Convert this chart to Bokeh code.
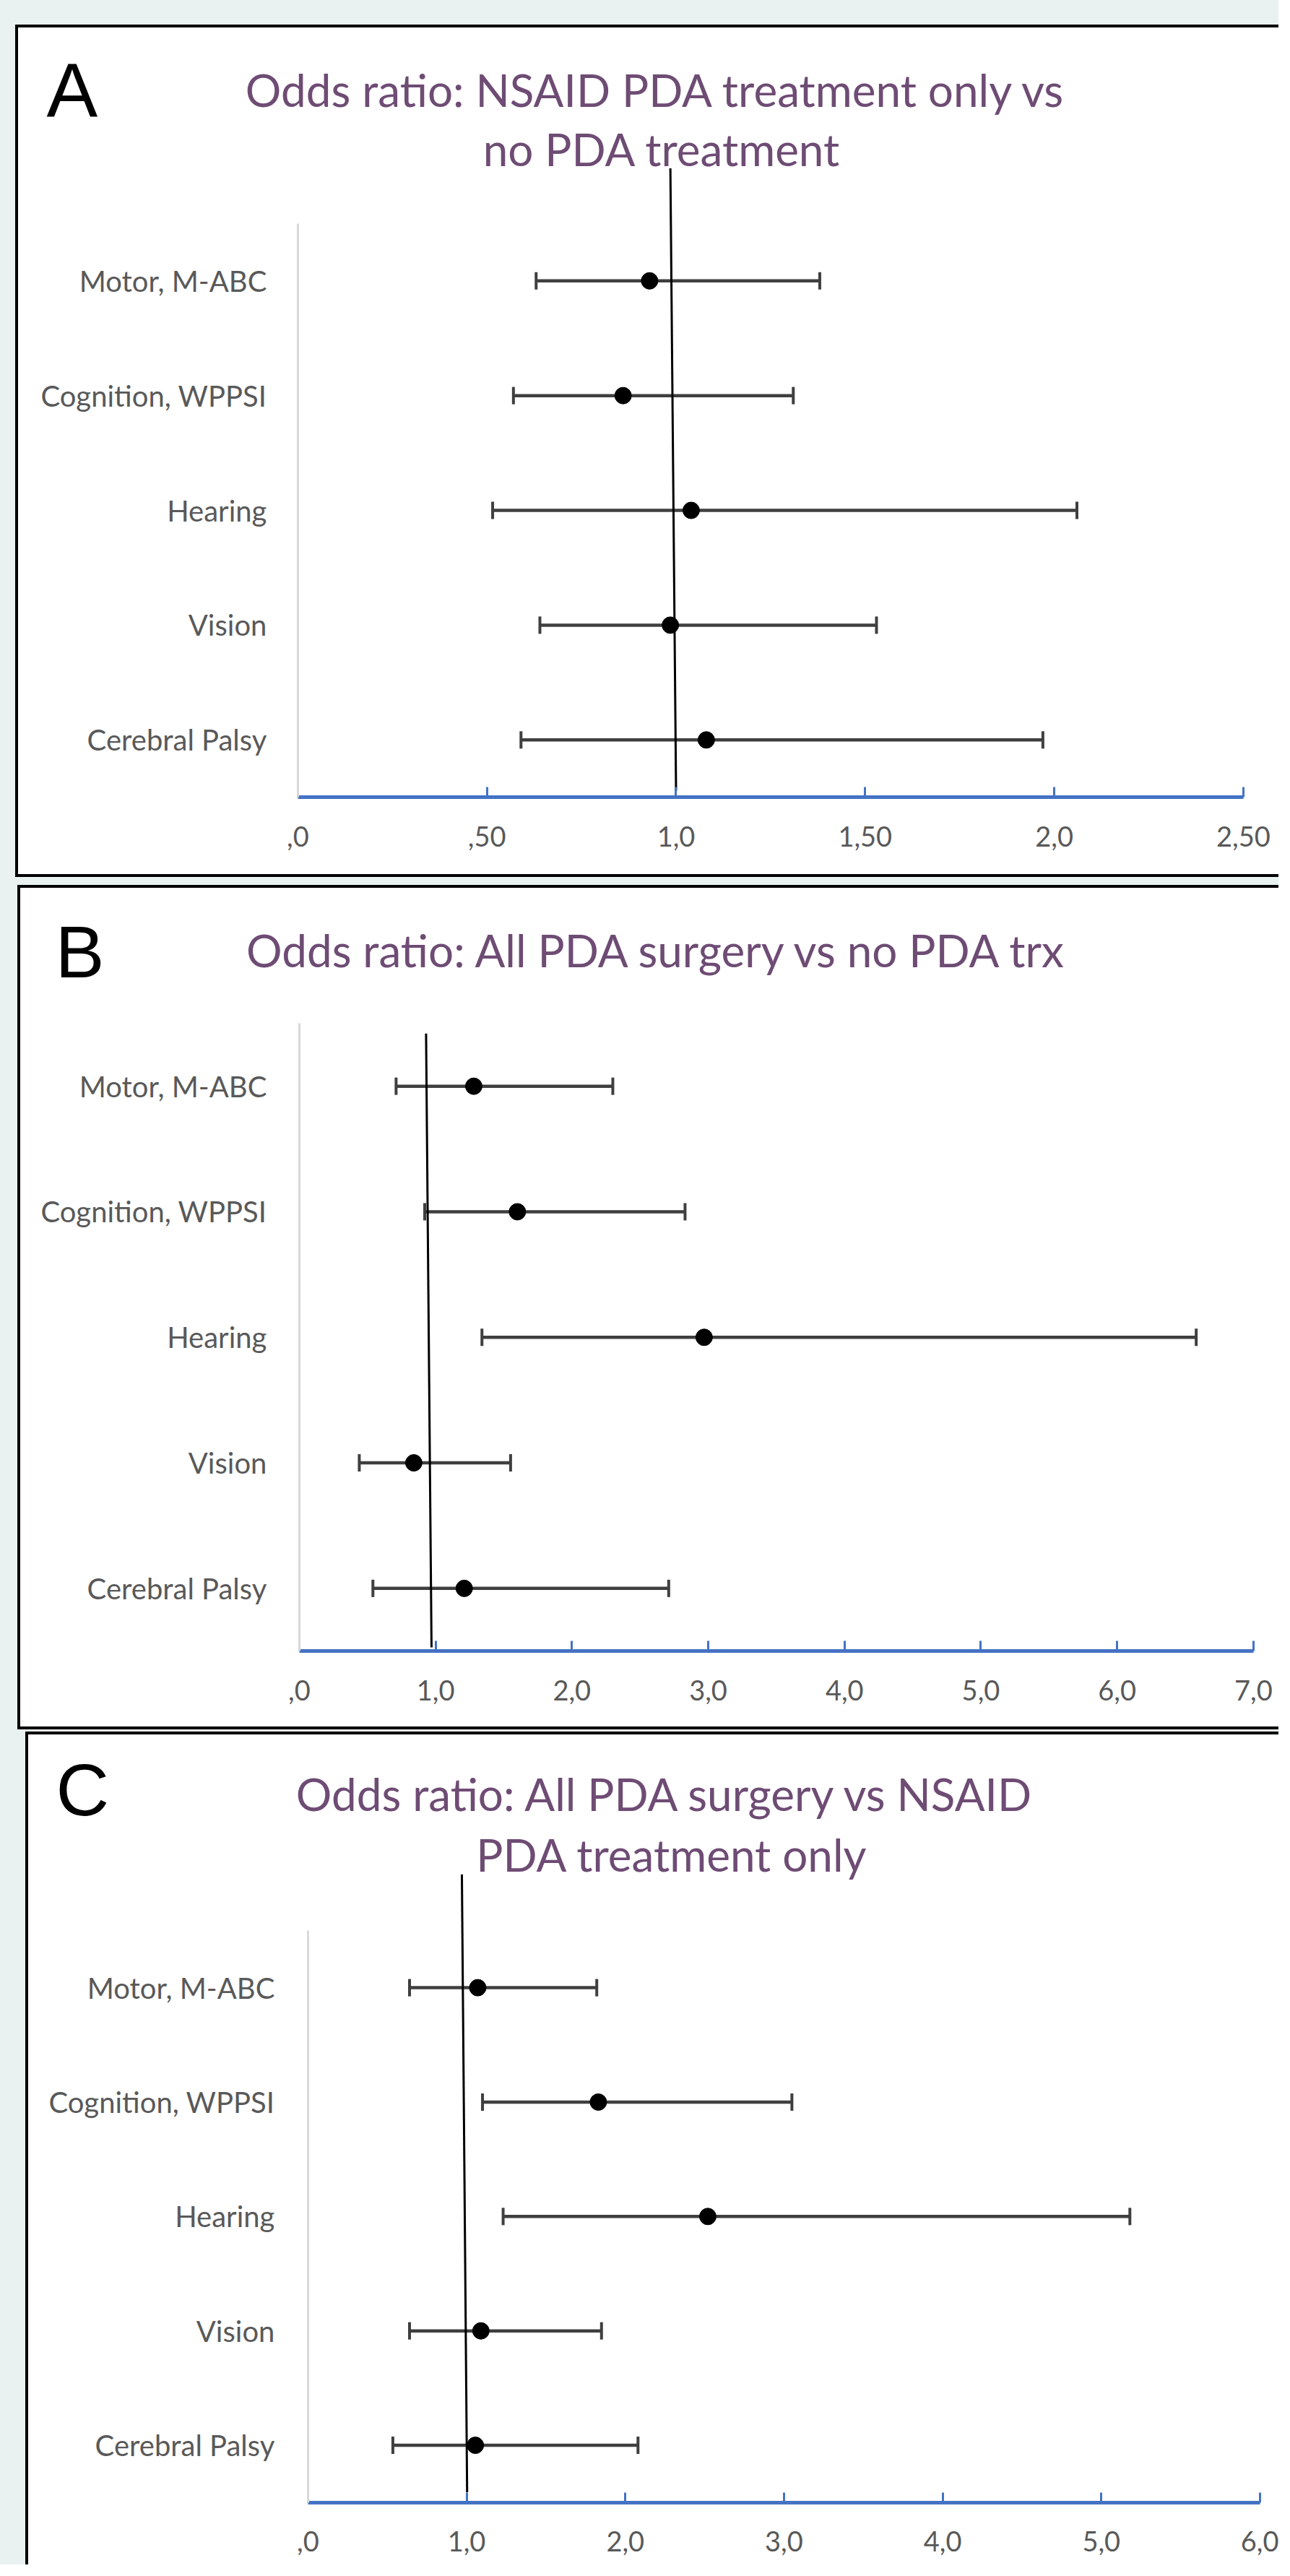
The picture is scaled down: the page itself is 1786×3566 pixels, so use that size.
import numpy as np
from bokeh.plotting import figure
from bokeh.models import FixedTicker, Label, ColumnDataSource
from bokeh.layouts import column
from bokeh.embed import file_html
from bokeh.resources import INLINE

# ---------------- data ----------------
categories = ["Motor, M-ABC", "Cognition, WPPSI", "Hearing", "Vision", "Cerebral Palsy"]
cat_pos = [4.5, 3.5, 2.5, 1.5, 0.5]

# Panel A: NSAID PDA treatment only vs no PDA treatment
a_or = [0.93, 0.86, 1.04, 0.985, 1.08]
a_lo = [0.63, 0.57, 0.515, 0.64, 0.59]
a_hi = [1.38, 1.31, 2.06, 1.53, 1.97]
a_ticks = [0, 0.5, 1.0, 1.5, 2.0, 2.5]
a_tick_labels = [",0", ",50", "1,0", "1,50", "2,0", "2,50"]
a_ref = [0.985, 5.48, 1.0, 0.06]   # x_top, y_top, x_bottom, y_bottom

# Panel B: All PDA surgery vs no PDA trx
b_or = [1.28, 1.60, 2.97, 0.84, 1.21]
b_lo = [0.71, 0.92, 1.34, 0.44, 0.54]
b_hi = [2.30, 2.83, 6.58, 1.55, 2.71]
b_ticks = [0, 1, 2, 3, 4, 5, 6, 7]
b_tick_labels = [",0", "1,0", "2,0", "3,0", "4,0", "5,0", "6,0", "7,0"]
b_ref = [0.93, 4.92, 0.97, 0.03]

# Panel C: All PDA surgery vs NSAID PDA treatment only
c_or = [1.07, 1.83, 2.52, 1.09, 1.055]
c_lo = [0.64, 1.10, 1.23, 0.64, 0.535]
c_hi = [1.82, 3.05, 5.18, 1.85, 2.08]
c_ticks = [0, 1, 2, 3, 4, 5, 6]
c_tick_labels = [",0", "1,0", "2,0", "3,0", "4,0", "5,0", "6,0"]
c_ref = [0.97, 5.49, 1.003, 0.09]

BG = "#E9F2F1"
TITLE_COLOR = "#6E4C74"
TEXT_GRAY = "#595959"
AXIS_BLUE = "#4472C4"
BAR_GRAY = "#3F3F3F"

LETTER_SHIFT = 40   # empirical baseline correction for label rendering
TITLE_SHIFT = 26


def make_panel(letter, letter_size, title_lines, or_, lo, hi, ticks, tick_labels, ref,
               box, axis_px, margins, borders, lab_standoff, letter_px, title_cx, title_base):
    # box: outer box in page px (left, top, right, bottom); borders 4px
    L, T, R, B = box
    CL = L + (4 if "left" in borders else 0)
    CT = T + (4 if "top" in borders else 0)
    CR = R
    CB = B - (4 if "bottom" in borders else 0)
    X0, X1, Y0, Y5 = axis_px
    xmax = ticks[-1]
    sx = (X1 - X0) / xmax
    sy = (Y0 - Y5) / 5.0
    x_start, x_end = (CL - X0) / sx, (CR - X0) / sx
    y_start, y_end = -(CB - Y0) / sy, (Y0 - CT) / sy

    style = {"box-sizing": "border-box", "background-color": "white"}
    for side in borders:
        style["border-" + side] = "4px solid black"
    p = figure(width=R - L, height=B - T, x_range=(x_start, x_end), y_range=(y_start, y_end),
               output_backend="svg", toolbar_location=None,
               min_border=0, min_border_left=0, min_border_right=0,
               min_border_top=0, min_border_bottom=0,
               margin=margins, styles=style)
    p.outline_line_color = None
    p.grid.visible = False
    p.background_fill_color = "white"
    p.border_fill_color = "white"

    src = ColumnDataSource(dict(y=cat_pos, orv=or_, lo=lo, hi=hi))
    # error bars
    p.segment(x0="lo", y0="y", x1="hi", y1="y", source=src,
              line_color=BAR_GRAY, line_width=4.5)
    p.scatter(x="lo", y="y", source=src, marker="dash", angle=np.pi / 2, size=24,
              line_color=BAR_GRAY, line_width=4)
    p.scatter(x="hi", y="y", source=src, marker="dash", angle=np.pi / 2, size=24,
              line_color=BAR_GRAY, line_width=4)
    # reference line at OR = 1
    p.segment(x0=[ref[0]], y0=[ref[1]], x1=[ref[2]], y1=[ref[3]],
              line_color="black", line_width=3)
    # point estimates
    p.scatter(x="orv", y="y", source=src, marker="circle", size=23,
              fill_color="black", line_color="black")

    # x axis, drawn at y = 0
    xa = p.xaxis[0]
    xa.fixed_location = 0
    xa.bounds = (0, xmax)
    xa.ticker = FixedTicker(ticks=ticks)
    xa.major_label_overrides = {t: s for t, s in zip(ticks, tick_labels)}
    xa.axis_line_color = AXIS_BLUE
    xa.axis_line_width = 5
    xa.major_tick_line_color = AXIS_BLUE
    xa.major_tick_line_width = 3
    xa.major_tick_in = 14
    xa.major_tick_out = 0
    xa.minor_tick_line_color = None
    xa.major_label_text_font = "Lato"
    xa.major_label_text_font_size = "38px"
    xa.major_label_text_color = TEXT_GRAY
    xa.major_label_standoff = 40

    # y (category) axis, drawn at x = 0
    ya = p.yaxis[0]
    ya.fixed_location = 0
    ya.ticker = FixedTicker(ticks=cat_pos)
    ya.major_label_overrides = {t: s for t, s in zip(cat_pos, categories)}
    ya.bounds = (0, 5)
    ya.axis_line_color = "#D9D9D9"
    ya.axis_line_width = 3
    ya.major_tick_line_color = None
    ya.minor_tick_line_color = None
    ya.major_tick_in = 0
    ya.major_tick_out = 0
    ya.major_label_text_font = "Lato"
    ya.major_label_text_font_size = "40px"
    ya.major_label_text_color = TEXT_GRAY
    ya.major_label_standoff = lab_standoff

    # panel letter (screen units: from content left / content bottom)
    p.add_layout(Label(x=letter_px[0] - CL, y=CB - letter_px[1] + LETTER_SHIFT,
                       x_units="screen", y_units="screen",
                       text=letter, text_font="Liberation Sans",
                       text_font_size=f"{letter_size}px", text_color="black",
                       text_align="left", text_baseline="alphabetic"))
    # title lines
    for line, ty in zip(title_lines, title_base):
        p.add_layout(Label(x=title_cx - CL, y=CB - ty + TITLE_SHIFT,
                           x_units="screen", y_units="screen",
                           text=line, text_font="Lato", text_font_size="62px",
                           text_color=TITLE_COLOR, text_align="center",
                           text_baseline="alphabetic"))
    return p


pA = make_panel("A", 106, ["Odds ratio:  NSAID PDA treatment only vs", "no PDA treatment"],
                a_or, a_lo, a_hi, a_ticks, a_tick_labels, a_ref,
                box=(29, 42, 1778, 1222), axis_px=(419, 1725, 1104, 315),
                margins=(34, 0, 0, 21), borders=["left", "top", "bottom"],
                lab_standoff=43, letter_px=(72, 163), title_cx=924, title_base=(149, 231))
pB = make_panel("B", 102, ["Odds ratio:  All PDA surgery vs no PDA trx"],
                b_or, b_lo, b_hi, b_ticks, b_tick_labels, b_ref,
                box=(32, 1233, 1778, 2402), axis_px=(421, 1739, 2286, 1423),
                margins=(11, 0, 0, 24), borders=["left", "top", "bottom"],
                lab_standoff=45, letter_px=(84, 1357), title_cx=927, title_base=(1340,))
pC = make_panel("C", 102, ["Odds ratio:  All PDA surgery vs NSAID", "PDA treatment only"],
                c_or, c_lo, c_hi, c_ticks, c_tick_labels, c_ref,
                box=(43, 2405, 1778, 3558), axis_px=(433, 1748, 3468, 2679),
                margins=(3, 0, 0, 35), borders=["left", "top"],
                lab_standoff=46, letter_px=(85, 2521), title_cx=938, title_base=(2512, 2596))

layout = column(pA, pB, pC, spacing=0, styles={"background-color": BG})

open("out.html", "w").write(file_html(layout, INLINE))
